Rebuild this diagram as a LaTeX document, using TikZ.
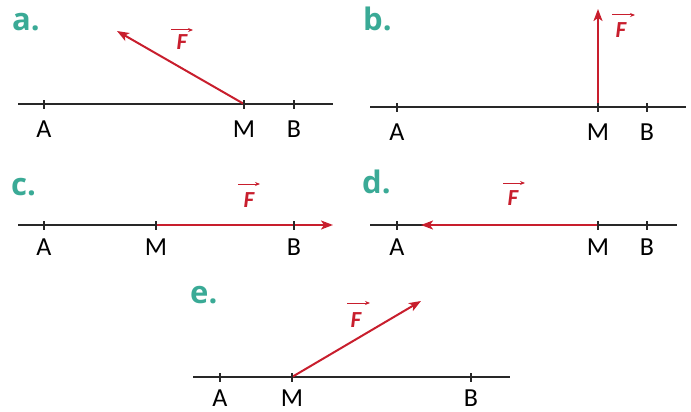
\documentclass[tikz,border=0pt]{standalone}
\usepackage{fontspec}
\setmainfont{Carlito}
\newfontfamily\labfont{Open Sans}
\usetikzlibrary{arrows.meta}
\definecolor{fred}{RGB}{200,30,45}
\definecolor{tealc}{RGB}{58,170,150}
\definecolor{axisc}{RGB}{40,40,40}
\begin{document}
\begin{tikzpicture}[x=1pt,y=-1pt,
 axisline/.style={axisc,line width=2pt},
 tickmark/.style={axisc,line width=1.5pt},
 force/.style={fred,line width=2pt,-{Stealth[length=12pt,width=9pt,inset=3pt]}},
 ptlab/.style={anchor=base,font=\fontsize{26}{26}\selectfont,inner sep=0pt},
 panel/.style={anchor=base west,font=\labfont\bfseries\fontsize{31}{31}\selectfont,text=tealc,inner sep=0pt},
 flab/.style={anchor=base,font=\bfseries\itshape\fontsize{23}{23}\selectfont,text=fred,inner sep=0pt},
 vecbar/.style={fred,line width=1pt,-{Stealth[length=5pt,width=4pt]}}
]
\useasboundingbox (0,0) rectangle (691,412);
% ---------- panel a ----------
\coordinate (aL) at (18,104); \coordinate (aR) at (333,104);
\coordinate (aA) at (44,104); \coordinate (aM) at (244,104); \coordinate (aB) at (294,104);
\coordinate (aF) at (117,31);
\draw[axisline] (aL) -- (aR);
\draw[force] (aM) -- (aF);
\foreach \p in {aA,aM,aB} \draw[tickmark] ([yshift=-4.5pt]\p) -- ([yshift=4.5pt]\p);
\node[ptlab] (laA) at (44,137) {A};
\node[ptlab] (laM) at (244,137) {M};
\node[ptlab] (laB) at (294,137) {B};
\node[flab] (Fa) at (182,50) {F};
\draw[vecbar] ([shift={(-11,-20)}]Fa.base) -- ([shift={(11,-20)}]Fa.base);
\node[panel] (pa) at (12,31) {a.};
% ---------- panel b ----------
\coordinate (bL) at (370,107); \coordinate (bR) at (686,107);
\coordinate (bA) at (397,107); \coordinate (bM) at (598,107); \coordinate (bB) at (647,107);
\coordinate (bF) at (598,9);
\draw[axisline] (bL) -- (bR);
\draw[force] (bM) -- (bF);
\foreach \p in {bA,bM,bB} \draw[tickmark] ([yshift=-4.5pt]\p) -- ([yshift=4.5pt]\p);
\node[ptlab] (lbA) at (397,140) {A};
\node[ptlab] (lbM) at (598,140) {M};
\node[ptlab] (lbB) at (647,140) {B};
\node[flab] (Fb) at (621,38) {F};
\draw[vecbar] ([shift={(-9,-23)}]Fb.base) -- ([shift={(14,-23)}]Fb.base);
\node[panel] (pb) at (363,31) {b.};
% ---------- panel c ----------
\coordinate (cL) at (18,225); \coordinate (cR) at (333,225);
\coordinate (cA) at (44,225); \coordinate (cM) at (156,225); \coordinate (cB) at (294,225);
\draw[axisline] (cL) -- (cM);
\draw[force] (cM) -- (cR);
\foreach \p in {cA,cM,cB} \draw[tickmark] ([yshift=-4.5pt]\p) -- ([yshift=4.5pt]\p);
\node[ptlab] (lcA) at (44,255) {A};
\node[ptlab] (lcM) at (156,255) {M};
\node[ptlab] (lcB) at (294,255) {B};
\node[flab] (Fc) at (249,207) {F};
\draw[vecbar] ([shift={(-11,-23)}]Fc.base) -- ([shift={(11,-23)}]Fc.base);
\node[panel] (pc) at (11,195) {c.};
% ---------- panel d ----------
\coordinate (dL) at (370,225); \coordinate (dR) at (677,225);
\coordinate (dA) at (397,225); \coordinate (dM) at (598,225); \coordinate (dB) at (647,225);
\coordinate (dF) at (421,225);
\draw[axisline] (dL) -- (dR);
\draw[force] (dM) -- (dF);
\foreach \p in {dA,dM,dB} \draw[tickmark] ([yshift=-4.5pt]\p) -- ([yshift=4.5pt]\p);
\node[ptlab] (ldA) at (397,255) {A};
\node[ptlab] (ldM) at (598,255) {M};
\node[ptlab] (ldB) at (647,255) {B};
\node[flab] (Fd) at (513,205) {F};
\draw[vecbar] ([shift={(-10,-22)}]Fd.base) -- ([shift={(12,-22)}]Fd.base);
\node[panel] (pd) at (362,193) {d.};
% ---------- panel e ----------
\coordinate (eL) at (193,377); \coordinate (eR) at (510,377);
\coordinate (eA) at (220,377); \coordinate (eM) at (292,377); \coordinate (eB) at (471,377);
\coordinate (eF) at (421,301);
\draw[axisline] (eL) -- (eR);
\draw[force] (eM) -- (eF);
\foreach \p in {eA,eM,eB} \draw[tickmark] ([yshift=-4.5pt]\p) -- ([yshift=4.5pt]\p);
\node[ptlab] (leA) at (220,406) {A};
\node[ptlab] (leM) at (292,406) {M};
\node[ptlab] (leB) at (471,406) {B};
\node[flab] (Fe) at (356,327) {F};
\draw[vecbar] ([shift={(-9,-24)}]Fe.base) -- ([shift={(14,-24)}]Fe.base);
\node[panel] (pe) at (190,303) {e.};
\end{tikzpicture}
\end{document}
